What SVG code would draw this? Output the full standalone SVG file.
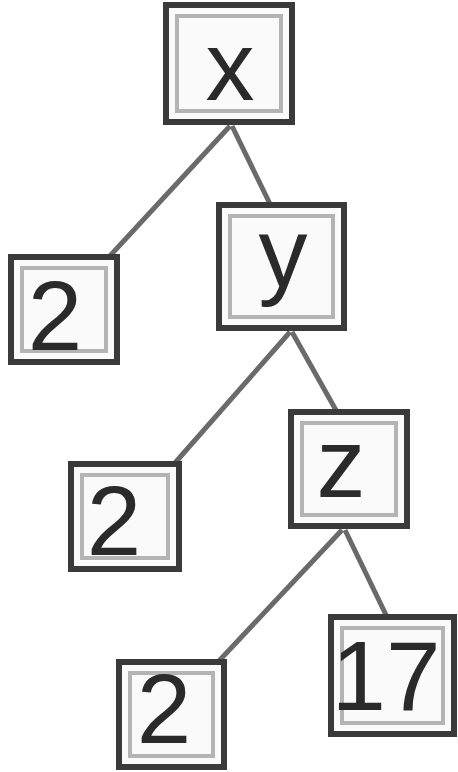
<svg xmlns="http://www.w3.org/2000/svg" width="458" height="772" viewBox="0 0 458 772">
<style>
.box{fill:#fafafa;stroke:#3a3a3a;stroke-width:6}
.inner{fill:none;stroke:#b4b4b4;stroke-width:4}
.lbl{font-family:"Liberation Sans",Arial,sans-serif;font-size:98px;fill:#2a2a2a;text-anchor:middle}
.edge{stroke:#6a6a6a;stroke-width:5;fill:none}
</style>
<rect width="458" height="772" fill="#ffffff"/>
<g id="connectors">
<line class="edge" x1="230" y1="126" x2="108" y2="258"/>
<line class="edge" x1="232" y1="126" x2="270" y2="204"/>
<line class="edge" x1="290" y1="332" x2="174" y2="464"/>
<line class="edge" x1="292" y1="332" x2="337" y2="412"/>
<line class="edge" x1="342" y1="530" x2="217" y2="663"/>
<line class="edge" x1="345" y1="530" x2="387" y2="617"/>
</g>
<g id="node-x">
<rect class="box" x="166" y="5" width="126" height="117"/>
<rect class="inner" x="177" y="16" width="104" height="95"/>
<text class="lbl" x="230" y="100">x</text>
</g>
<g id="node-2a">
<rect class="box" x="11" y="257" width="106" height="105"/>
<rect class="inner" x="22" y="268" width="84" height="83"/>
<text class="lbl" x="55" y="350">2</text>
</g>
<g id="node-y">
<rect class="box" x="219" y="205" width="125" height="123"/>
<rect class="inner" x="230" y="216" width="103" height="101"/>
<text class="lbl" x="283" y="287">y</text>
</g>
<g id="node-2b">
<rect class="box" x="71" y="464" width="108" height="105"/>
<rect class="inner" x="82" y="475" width="86" height="83"/>
<text class="lbl" x="114" y="555">2</text>
</g>
<g id="node-z">
<rect class="box" x="291" y="412" width="116" height="114"/>
<rect class="inner" x="302" y="423" width="94" height="92"/>
<text class="lbl" x="341" y="497">z</text>
</g>
<g id="node-2c">
<rect class="box" x="119" y="662" width="105" height="105"/>
<rect class="inner" x="130" y="673" width="83" height="83"/>
<text class="lbl" x="164" y="743">2</text>
</g>
<g id="node-17">
<rect class="box" x="331" y="617" width="123" height="117"/>
<rect class="inner" x="342" y="628" width="101" height="95"/>
<text class="lbl" x="386" y="710">17</text>
</g>
</svg>
